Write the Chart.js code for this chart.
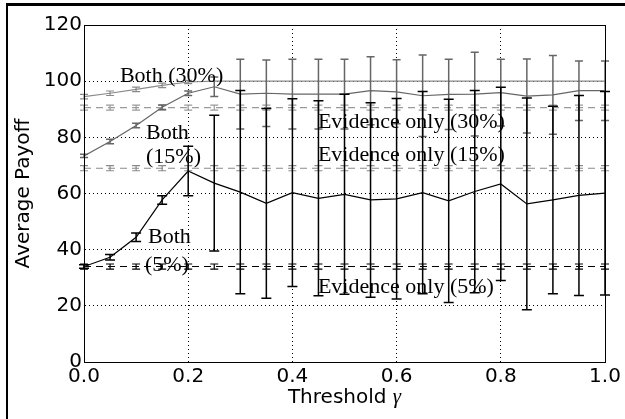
<!DOCTYPE html>
<html>
<head>
<meta charset="utf-8">
<script src="https://cdn.jsdelivr.net/npm/chart.js@4.4.0/dist/chart.umd.min.js"></script>
<style>
  html, body { margin: 0; padding: 0; background: #fff; }
  #wrap { position: relative; width: 625px; height: 419px; }
  #frame { position: absolute; left: 6px; top: 3px; right: 0; bottom: 0;
           border-top: 3px solid #000; border-left: 2px solid #000; pointer-events: none; }
</style>
</head>
<body>
<div id="wrap">
  <canvas id="chart" width="625" height="419"></canvas>
  <div id="frame"></div>
</div>
<script>
// ---- data ----
const thresholds = [0, 0.05, 0.1, 0.15, 0.2, 0.25, 0.3, 0.35, 0.4, 0.45, 0.5,
                    0.55, 0.6, 0.65, 0.7, 0.75, 0.8, 0.85, 0.9, 0.95, 1.0];

const both30    = [94.5, 95.7, 97.1, 98.5, 99.7, 100, 100, 100, 100, 100, 100,
                   100, 100, 100, 100, 100, 100, 100, 100, 100, 100];
const both30Err = [0.8, 0.8, 0.8, 0.8, 0.6, 0, 0, 0, 0, 0, 0,
                   0, 0, 0, 0, 0, 0, 0, 0, 0, 0];

const both15    = [73.4, 78.5, 84.2, 90.7, 95.7, 98.0, 95.4, 95.7, 95.4, 95.4, 95.4,
                   96.6, 96.2, 94.8, 95.3, 95.4, 95.9, 94.7, 95.1, 96.6, 96.6];
const both15Err = [0.6, 0.8, 0.8, 0.8, 0.8, 3.5, 12.4, 11.8, 12.4, 12.4, 12.4,
                   12.1, 11.4, 14.5, 12.5, 14.9, 11.9, 13.2, 14.0, 10.6, 10.6];

const both5     = [34.0, 37.3, 44.4, 57.7, 68.0, 63.7, 60.5, 56.5, 60.3, 58.3, 59.7,
                   57.7, 58.1, 60.3, 57.4, 60.7, 63.4, 56.3, 57.7, 59.3, 60.1];
const both5Err  = [0.6, 1.0, 1.5, 1.5, 8.8, 24.2, 36.2, 33.8, 33.4, 34.7, 35.6,
                   34.6, 35.7, 36.0, 36.2, 36.0, 34.4, 37.7, 33.4, 35.6, 36.2];

const evid30    = [90.6, 90.6, 90.6, 90.6, 90.6, 90.6, 90.6, 90.6, 90.6, 90.6, 90.6,
                   90.6, 90.6, 90.6, 90.6, 90.6, 90.6, 90.6, 90.6, 90.6, 90.6];
const evid15    = [69.0, 69.0, 69.0, 69.0, 69.0, 69.0, 69.0, 69.0, 69.0, 69.0, 69.0,
                   69.0, 69.0, 69.0, 69.0, 69.0, 69.0, 69.0, 69.0, 69.0, 69.0];
const evid5     = [34.0, 34.0, 34.0, 34.0, 34.0, 34.0, 34.0, 34.0, 34.0, 34.0, 34.0,
                   34.0, 34.0, 34.0, 34.0, 34.0, 34.0, 34.0, 34.0, 34.0, 34.0];
const evidErr   = [0.9, 0.9, 0.9, 0.9, 0.9, 0.9, 0.9, 0.9, 0.9, 0.9, 0.9,
                   0.9, 0.9, 0.9, 0.9, 0.9, 0.9, 0.9, 0.9, 0.9, 0.9];

const xTicks = [0, 0.2, 0.4, 0.6, 0.8, 1.0];
const yTicks = [0, 20, 40, 60, 80, 100, 120];

// text labels in the plot, anchored in data units (left edge, baseline)
const notes = [
  { text: "Both (30%)",           x: 0.069, y: 99.6 },
  { text: "Both",                 x: 0.119, y: 79.3 },
  { text: "(15%)",                x: 0.119, y: 71.0 },
  { text: "Both",                 x: 0.123, y: 42.3 },
  { text: "(5%)",                 x: 0.117, y: 32.4 },
  { text: "Evidence only (30%)",  x: 0.449, y: 83.2 },
  { text: "Evidence only (15%)",  x: 0.449, y: 71.6 },
  { text: "Evidence only (5%)",   x: 0.449, y: 24.5 },
];

const pts = (ys) => thresholds.map((x, i) => ({ x: x, y: ys[i] }));

function series(label, ys, errs, color, dashed, cap, barWidth) {
  return {
    label: label,
    data: pts(ys),
    errors: errs,
    borderColor: color,
    borderWidth: 1.2,
    borderDash: dashed ? [7, 5] : [],
    pointRadius: 0,
    tension: 0,
    fill: false,
    capHalf: cap,
    barWidth: barWidth,
  };
}

/* ---------- PLUGINS ---------- */
const errorBars = {
  id: "errorBars",
  afterDatasetsDraw(chart) {
    const ctx = chart.ctx;
    const xs = chart.scales.x, ys = chart.scales.y;
    chart.data.datasets.forEach((ds) => {
      if (!ds.errors) return;
      ctx.save();
      ctx.strokeStyle = ds.borderColor;
      ctx.lineWidth = ds.barWidth;
      ctx.setLineDash([]);
      ds.data.forEach((p, i) => {
        const e = ds.errors[i];
        if (!e) return;
        const px = xs.getPixelForValue(p.x);
        const top = ys.getPixelForValue(p.y + e);
        const bot = ys.getPixelForValue(p.y - e);
        ctx.beginPath();
        ctx.moveTo(px, top); ctx.lineTo(px, bot);
        ctx.moveTo(px - ds.capHalf, top); ctx.lineTo(px + ds.capHalf, top);
        ctx.moveTo(px - ds.capHalf, bot); ctx.lineTo(px + ds.capHalf, bot);
        ctx.stroke();
      });
      ctx.restore();
    });
  },
};

const decorations = {
  id: "decorations",
  afterDraw(chart) {
    const ctx = chart.ctx;
    const a = chart.chartArea;
    const xs = chart.scales.x, ys = chart.scales.y;
    ctx.save();
    // plot frame
    ctx.strokeStyle = "#000";
    ctx.lineWidth = 1;
    ctx.setLineDash([]);
    ctx.strokeRect(Math.round(a.left) + 0.5, Math.round(a.top) + 0.5,
                   Math.round(a.right - a.left), Math.round(a.bottom - a.top));
    // in-plot labels
    ctx.fillStyle = "#000";
    ctx.font = '22px "Liberation Serif"';
    ctx.textAlign = "left";
    ctx.textBaseline = "alphabetic";
    notes.forEach((n) => {
      ctx.fillText(n.text, xs.getPixelForValue(n.x), ys.getPixelForValue(n.y));
    });
    // x axis title: sans text + italic serif gamma
    const t1 = "Threshold ";
    const t2 = "\u03b3";
    ctx.font = '20px "DejaVu Sans"';
    const w1 = ctx.measureText(t1).width;
    ctx.font = 'italic 21px "Liberation Serif"';
    const w2 = ctx.measureText(t2).width;
    const cx = (a.left + a.right) / 2;
    const x0 = cx - (w1 + w2) / 2;
    const base = 403;
    ctx.font = '20px "DejaVu Sans"';
    ctx.fillText(t1, x0, base);
    ctx.font = 'italic 21px "Liberation Serif"';
    ctx.fillText(t2, x0 + w1, base);
    ctx.restore();
  },
};

/* ---------- CHART ---------- */
const gridStyle = { color: "#000", lineWidth: 1, drawTicks: false };
const tickFont = { family: "DejaVu Sans", size: 20 };

new Chart(document.getElementById("chart").getContext("2d"), {
  type: "line",
  data: {
    datasets: [
      series("Evidence only (30%)", evid30, evidErr, "#9a9a9a", true, 4, 1.2),
      series("Evidence only (15%)", evid15, evidErr, "#8a8a8a", true, 4, 1.2),
      series("Evidence only (5%)", evid5, evidErr, "#000000", true, 4, 1.2),
      series("Both (30%)", both30, both30Err, "#8a8a8a", false, 4, 1.2),
      series("Both (15%)", both15, both15Err, "#666666", false, 4, 1.5),
      series("Both (5%)", both5, both5Err, "#000000", false, 5, 1.5),
    ],
  },
  options: {
    responsive: false,
    animation: false,
    devicePixelRatio: 1,
    layout: { padding: { left: 0, top: 25, right: 20, bottom: 0 } },
    plugins: { legend: { display: false }, tooltip: { enabled: false } },
    scales: {
      x: {
        type: "linear",
        min: 0,
        max: 1,
        afterBuildTicks: (s) => { s.ticks = xTicks.map((v) => ({ value: v })); },
        afterFit: (s) => { s.height = 57; },
        grid: gridStyle,
        border: { display: true, color: "#000", width: 1, dash: [1, 3] },
        ticks: { font: tickFont, color: "#000", padding: 3, maxRotation: 0,
                 callback: (v) => Number(v).toFixed(1) },
      },
      y: {
        min: 0,
        max: 120,
        afterBuildTicks: (s) => { s.ticks = yTicks.map((v) => ({ value: v })); },
        afterFit: (s) => { s.width = 84; },
        grid: gridStyle,
        border: { display: true, color: "#000", width: 1, dash: [1, 3] },
        ticks: { font: tickFont, color: "#000", padding: 2 },
        title: { display: true, text: "Average Payoff", color: "#000",
                 font: { family: "DejaVu Sans", size: 20 }, padding: { top: 12, bottom: 0 } },
      },
    },
  },
  plugins: [errorBars, decorations],
});
</script>
</body>
</html>
